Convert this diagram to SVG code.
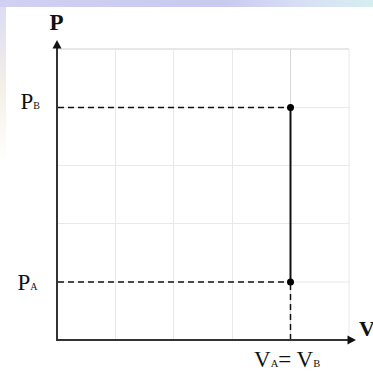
<svg xmlns="http://www.w3.org/2000/svg" width="373" height="372" viewBox="0 0 373 372">
<defs>
<style>
.grid{stroke:#e8e8e8;stroke-width:1;fill:none}
.axis{stroke:#333;stroke-width:2;fill:none}
.dash{stroke:#111;stroke-width:1.5;stroke-dasharray:6 4;fill:none}
.t{font-family:"Liberation Serif","Times New Roman",serif;fill:#111}
.b{font-weight:bold}
</style>
<linearGradient id="bgTop" x1="0" y1="0" x2="1" y2="0">
<stop offset="0" stop-color="#cfd0f2"/>
<stop offset="0.6" stop-color="#c9caf0"/>
<stop offset="0.8" stop-color="#d8def5"/>
<stop offset="1" stop-color="#d6eef0"/>
</linearGradient>
<linearGradient id="bgLeft" x1="0" y1="0" x2="0" y2="1">
<stop offset="0" stop-color="#dcdcf4"/>
<stop offset="0.3" stop-color="#f3efe6"/>
<stop offset="0.6" stop-color="#ffffff"/>
</linearGradient>
</defs>
<rect width="373" height="372" fill="#ffffff"/>
<rect x="0" y="0" width="373" height="7" fill="url(#bgTop)"/>
<rect x="0" y="7" width="6" height="260" fill="url(#bgLeft)"/>
<g id="grid">
<line class="grid" x1="57" y1="49" x2="349" y2="49" style="stroke:#cfcfcf"/>
<line class="grid" x1="57" y1="107.5" x2="349" y2="107.5"/>
<line class="grid" x1="57" y1="165.5" x2="349" y2="165.5"/>
<line class="grid" x1="57" y1="223.5" x2="349" y2="223.5"/>
<line class="grid" x1="57" y1="282" x2="349" y2="282"/>
<line class="grid" x1="115.5" y1="49" x2="115.5" y2="340"/>
<line class="grid" x1="173.5" y1="49" x2="173.5" y2="340"/>
<line class="grid" x1="232.5" y1="49" x2="232.5" y2="340"/>
<line class="grid" x1="290.5" y1="49" x2="290.5" y2="340" style="stroke:#d6d6d6"/>
<line class="grid" x1="349" y1="49" x2="349" y2="340"/>
</g>
<g id="connectors">
<line class="dash" x1="58" y1="107.5" x2="290" y2="107.5"/>
<line class="dash" x1="58" y1="282" x2="290" y2="282"/>
<line class="dash" x1="290.5" y1="284" x2="290.5" y2="340"/>
<line x1="290.5" y1="107.5" x2="290.5" y2="282" stroke="#111" stroke-width="2"/>
</g>
<g id="axes">
<line class="axis" x1="57" y1="341" x2="57" y2="47"/>
<polygon points="57,40 52.5,48.5 61.5,48.5" fill="#111"/>
<line class="axis" x1="56" y1="340" x2="348" y2="340"/>
<polygon points="356,340 347.5,335.5 347.5,344.5" fill="#111"/>
</g>
<g id="pointB"><circle cx="290.5" cy="107.5" r="3.5" fill="#000"/></g>
<g id="pointA"><circle cx="290.5" cy="282" r="3.5" fill="#000"/></g>
<g id="labels">
<text class="t b" x="49.5" y="30" font-size="23">P</text>
<text class="t b" x="359" y="336" font-size="22">V</text>
<text class="t" x="20.5" y="109" font-size="23">P<tspan font-size="10">B</tspan></text>
<text class="t" x="17.5" y="290" font-size="23">P<tspan font-size="10">A</tspan></text>
<text class="t" x="254" y="367" font-size="23">V<tspan font-size="10.5">A</tspan>= V<tspan font-size="10.5">B</tspan></text>
</g>
</svg>
